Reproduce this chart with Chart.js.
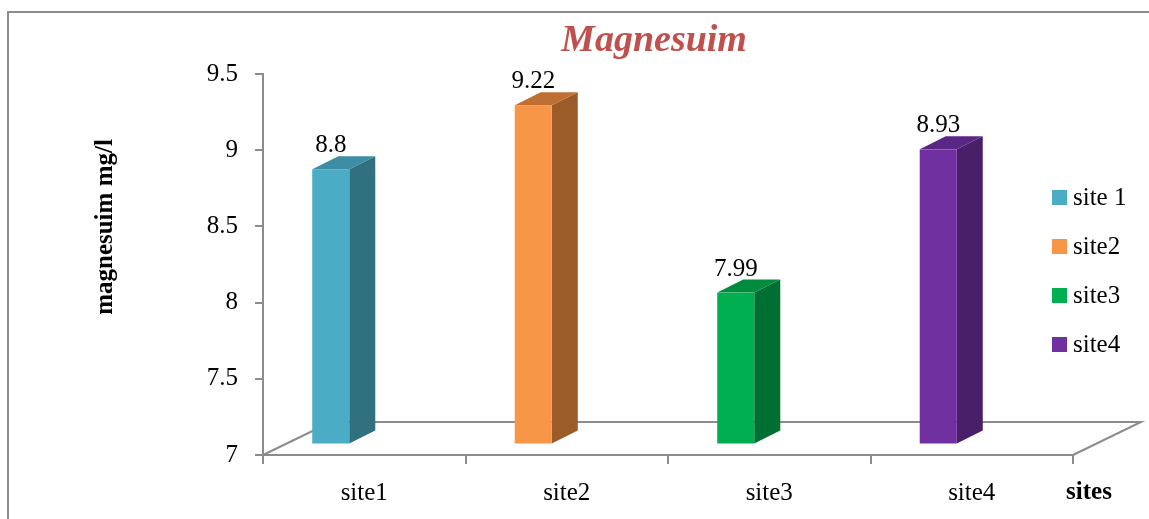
<!DOCTYPE html>
<html>
<head>
<meta charset="utf-8">
<script src="https://cdn.jsdelivr.net/npm/chart.js@4.4.1/dist/chart.umd.min.js"></script>
<style>
  html, body { margin: 0; padding: 0; background: #ffffff; }
  #wrap { width: 1149px; height: 519px; }
</style>
</head>
<body>
<div id="wrap"><canvas id="chart" width="1149" height="519"></canvas></div>
<script>
// Magnesium concentration per sampling site (mg/l)
const categories   = ['site1', 'site2', 'site3', 'site4'];
const legendLabels = ['site 1', 'site2', 'site3', 'site4'];
const values       = [8.8, 9.22, 7.99, 8.93];
const yTicks       = [7, 7.5, 8, 8.5, 9, 9.5];

const frontColors = ['#4bacc6', '#f79646', '#00b050', '#7030a0'];
const sideColors  = ['#31707f', '#9b5c2a', '#006f31', '#4a1f69'];
const topColors   = ['#3d8ea4', '#bf6f31', '#008b3e', '#5b2785'];

const AXIS_GRAY = '#8c8c8c';
const SERIF = '"Liberation Serif", "Times New Roman", serif';

// oblique projection used for the floor and the columns
const FLOOR_DX = 68, FLOOR_DY = 33;      // depth of the floor plane
const BAR_SHIFT = -33.5;                 // front face offset from category centre
const BAR_LIFT = 11.5;                   // front face sits this far above the floor front edge
const BAR_DX = 26, BAR_DY = 13;          // depth of each column

const columns3d = {
  id: 'columns3d',
  beforeDraw(chart) {
    const ctx = chart.ctx;
    ctx.save();
    ctx.fillStyle = '#ffffff';
    ctx.fillRect(0, 0, chart.width, chart.height);
    // outer frame (top and left edges)
    ctx.strokeStyle = AXIS_GRAY;
    ctx.lineWidth = 2;
    ctx.beginPath();
    ctx.moveTo(8, chart.height);
    ctx.lineTo(8, 12);
    ctx.lineTo(chart.width, 12);
    ctx.stroke();
    ctx.restore();
  },
  beforeDatasetsDraw(chart) {
    const ctx = chart.ctx;
    const a = chart.chartArea;
    const yBase = chart.scales.y.getPixelForValue(chart.scales.y.min);
    ctx.save();
    ctx.strokeStyle = AXIS_GRAY;
    ctx.lineWidth = 2;
    ctx.beginPath();
    ctx.moveTo(a.left, yBase);
    ctx.lineTo(a.left + FLOOR_DX, yBase - FLOOR_DY);
    ctx.lineTo(a.right + FLOOR_DX, yBase - FLOOR_DY);
    ctx.lineTo(a.right, yBase);
    ctx.stroke();
    ctx.restore();
  },
  beforeDatasetDraw() {
    return false; // columns are drawn as 3D boxes below
  },
  afterDatasetsDraw(chart) {
    const ctx = chart.ctx;
    const ys = chart.scales.y;
    const meta = chart.getDatasetMeta(0);
    const yBot = ys.getPixelForValue(ys.min) - BAR_LIFT;
    ctx.save();
    meta.data.forEach((el, i) => {
      const v = chart.data.datasets[0].data[i];
      const yTop = ys.getPixelForValue(v) - BAR_LIFT;
      const x0 = el.x + BAR_SHIFT - el.width / 2;
      const x1 = x0 + el.width;
      // side face
      ctx.fillStyle = sideColors[i];
      ctx.beginPath();
      ctx.moveTo(x1, yTop);
      ctx.lineTo(x1 + BAR_DX, yTop - BAR_DY);
      ctx.lineTo(x1 + BAR_DX, yBot - BAR_DY);
      ctx.lineTo(x1, yBot);
      ctx.closePath();
      ctx.fill();
      // top face
      ctx.fillStyle = topColors[i];
      ctx.beginPath();
      ctx.moveTo(x0, yTop);
      ctx.lineTo(x0 + BAR_DX, yTop - BAR_DY);
      ctx.lineTo(x1 + BAR_DX, yTop - BAR_DY);
      ctx.lineTo(x1, yTop);
      ctx.closePath();
      ctx.fill();
      // front face
      ctx.fillStyle = frontColors[i];
      ctx.fillRect(x0, yTop, x1 - x0, yBot - yTop);
      // value label
      ctx.fillStyle = '#000000';
      ctx.font = '25px ' + SERIF;
      ctx.textAlign = 'center';
      ctx.textBaseline = 'alphabetic';
      ctx.fillText(String(v), (x0 + x1) / 2, yTop - BAR_DY - 4);
    });
    ctx.restore();
  },
  afterDraw(chart) {
    const ctx = chart.ctx;
    const a = chart.chartArea;
    ctx.save();
    // chart title
    ctx.fillStyle = '#c0504d';
    ctx.font = 'italic bold 38px ' + SERIF;
    ctx.textAlign = 'center';
    ctx.textBaseline = 'alphabetic';
    ctx.fillText('Magnesuim', (a.left + a.right) / 2 - 14, 51);
    // x axis title
    ctx.fillStyle = '#000000';
    ctx.font = 'bold 25px ' + SERIF;
    ctx.textBaseline = 'middle';
    ctx.fillText('sites', a.right + 16, 493);
    // y axis title
    ctx.save();
    ctx.translate(106, 227);
    ctx.rotate(-Math.PI / 2);
    ctx.textAlign = 'center';
    ctx.textBaseline = 'middle';
    ctx.fillText('magnesuim mg/l', 0, 0);
    ctx.restore();
    // legend
    ctx.font = '25px ' + SERIF;
    ctx.textAlign = 'left';
    ctx.textBaseline = 'middle';
    legendLabels.forEach((lab, i) => {
      const cy = 197.5 + i * 49;
      ctx.fillStyle = frontColors[i];
      ctx.fillRect(1052, cy - 7.5, 15, 15);
      ctx.fillStyle = '#000000';
      ctx.fillText(lab, 1073, cy + 1);
    });
    ctx.restore();
  }
};

new Chart(document.getElementById('chart'), {
  type: 'bar',
  data: {
    labels: categories,
    datasets: [{
      label: 'magnesuim mg/l',
      data: values,
      backgroundColor: frontColors,
      categoryPercentage: 1,
      barPercentage: 0.183
    }]
  },
  options: {
    responsive: false,
    animation: false,
    devicePixelRatio: 1,
    layout: { padding: { left: 80, right: 76, top: 74, bottom: 14 } },
    plugins: {
      legend: { display: false },
      title: { display: false },
      tooltip: { enabled: false }
    },
    scales: {
      x: {
        type: 'category',
        grid: { offset: true, drawOnChartArea: false, drawTicks: true, tickLength: 9, color: AXIS_GRAY, lineWidth: 2 },
        border: { color: AXIS_GRAY, width: 2 },
        ticks: { color: '#000000', font: { family: SERIF, size: 25 }, padding: 14, maxRotation: 0 },
        afterFit(scale) { scale.height = 50; }
      },
      y: {
        min: 7,
        max: 9.5,
        afterBuildTicks(scale) { scale.ticks = yTicks.map(v => ({ value: v })); },
        grid: { drawOnChartArea: false, drawTicks: true, tickLength: 8, color: AXIS_GRAY, lineWidth: 2 },
        border: { color: AXIS_GRAY, width: 2 },
        ticks: {
          color: '#000000',
          font: { family: SERIF, size: 25 },
          padding: 17,
          callback: (value) => String(Number(value))
        },
        title: { display: false },
        afterFit(scale) { scale.width = 183; }
      }
    }
  },
  plugins: [columns3d]
});
</script>
</body>
</html>
